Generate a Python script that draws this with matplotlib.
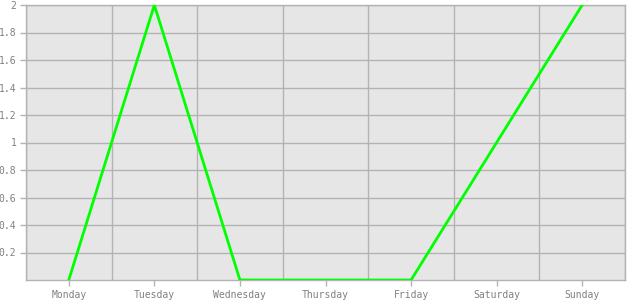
import numpy as np
import matplotlib
matplotlib.use("Agg")
import matplotlib.pyplot as plt
from matplotlib.ticker import FixedLocator, FuncFormatter

days = ["Monday", "Tuesday", "Wednesday", "Thursday", "Friday", "Saturday", "Sunday"]
values = [0, 2, 0, 0, 0, 1, 2]
yticks = [0.2, 0.4, 0.6, 0.8, 1.0, 1.2, 1.4, 1.6, 1.8, 2.0]

grey = "#b3b3b3"
label_col = "#808080"

fig = plt.figure(figsize=(6.3, 3.0), dpi=100)
ax = fig.add_axes([26 / 630, 20 / 300, 599 / 630, 275 / 300])
ax.set_facecolor("#e6e6e6")

x = np.arange(len(days))
ax.plot(x, values, color="#00ff00", lw=2, zorder=3, solid_joinstyle="miter")

ax.set_xlim(-0.5, len(days) - 0.5)
ax.set_ylim(0, 2)
ax.set_xticks(x)
ax.set_xticklabels(days)
ax.xaxis.set_minor_locator(FixedLocator(np.arange(len(days) + 1) - 0.5))
ax.set_yticks(yticks)
ax.yaxis.set_major_formatter(FuncFormatter(lambda v, p: "%g" % v))

ax.grid(False)
ax.grid(which="major", axis="y", color=grey, lw=1)
ax.grid(which="minor", axis="x", color=grey, lw=1)
ax.set_axisbelow(True)

for s in ax.spines.values():
    s.set_color(grey)
    s.set_linewidth(1)

for lab in ax.get_xticklabels() + ax.get_yticklabels():
    lab.set_fontfamily("DejaVu Sans Mono")
ax.tick_params(which="major", length=4, width=1, color=grey, labelcolor=label_col,
               labelsize=7, pad=3)
ax.tick_params(which="minor", length=0)

fig.savefig("out.png", dpi=100)
